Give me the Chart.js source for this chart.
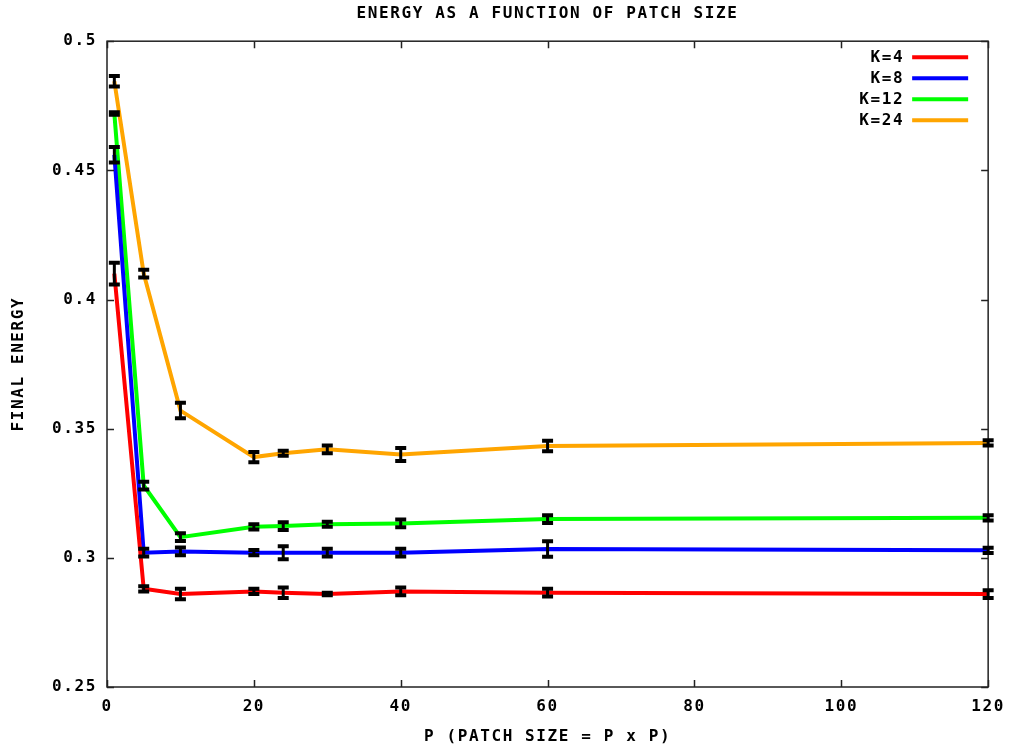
<!DOCTYPE html>
<html>
<head>
<meta charset="utf-8">
<script src="https://cdn.jsdelivr.net/npm/chart.js@4/dist/chart.umd.min.js"></script>
<style>
    html, body { margin: 0; padding: 0; background: #fff; }
    #wrap { width: 1015px; height: 749px; }
</style>
</head>
<body>
<div id="wrap"><canvas id="energyChart"></canvas></div>
<script>
// Patch size P (x axis)
const patchSizes = [1, 5, 10, 20, 24, 30, 40, 60, 120];

// Final energy per K, with half-height of the error bars
const energyK4  = [0.410, 0.288, 0.286, 0.287, 0.2865, 0.286, 0.287, 0.2865, 0.286];
const errK4     = [0.0042, 0.001, 0.002, 0.001, 0.002, 0.0005, 0.0015, 0.0015, 0.0015];
const energyK8  = [0.456, 0.302, 0.3025, 0.302, 0.302, 0.302, 0.302, 0.3034, 0.3029];
const errK8     = [0.003, 0.0015, 0.0015, 0.001, 0.0025, 0.0015, 0.0015, 0.003, 0.001];
const energyK12 = [0.472, 0.328, 0.308, 0.312, 0.3123, 0.313, 0.3133, 0.315, 0.3155];
const errK12    = [0.0005, 0.0015, 0.0015, 0.001, 0.0015, 0.001, 0.0015, 0.0015, 0.001];
const energyK24 = [0.4845, 0.410, 0.357, 0.339, 0.3405, 0.342, 0.340, 0.3433, 0.3445];
const errK24    = [0.002, 0.0015, 0.003, 0.002, 0.001, 0.0015, 0.0025, 0.002, 0.001];

const seriesLabels = ['K=4', 'K=8', 'K=12', 'K=24'];
const seriesColors = ['#ff0000', '#0000ff', '#00ff00', '#ffa500'];
const seriesValues = [energyK4, energyK8, energyK12, energyK24];
const seriesErrors = [errK4, errK8, errK12, errK24];

const FONT = { family: '"DejaVu Sans Mono", monospace', size: 16, weight: 'bold' };
const SPACING = '1.6px';

function setSpacing(chart) {
    chart.ctx.letterSpacing = SPACING;
}

// gnuplot-style frame with inward ticks on all four sides
const framePlugin = {
    id: 'frame',
    beforeUpdate: setSpacing,
    beforeLayout: setSpacing,
    beforeDraw: setSpacing,
    afterDatasetsDraw(chart) {
        const { ctx, chartArea: a, scales } = chart;
        ctx.save();
        ctx.strokeStyle = '#222';
        ctx.lineWidth = 1.5;
        ctx.strokeRect(a.left, a.top, a.right - a.left, a.bottom - a.top);
        const len = 7;
        ctx.beginPath();
        scales.x.ticks.forEach(t => {
            const px = Math.round(scales.x.getPixelForValue(t.value)) + 0.5;
            ctx.moveTo(px, a.bottom); ctx.lineTo(px, a.bottom - len);
            ctx.moveTo(px, a.top); ctx.lineTo(px, a.top + len);
        });
        scales.y.ticks.forEach(t => {
            const py = Math.round(scales.y.getPixelForValue(t.value)) + 0.5;
            ctx.moveTo(a.left, py); ctx.lineTo(a.left + len, py);
            ctx.moveTo(a.right, py); ctx.lineTo(a.right - len, py);
        });
        ctx.stroke();
        ctx.restore();
    }
};

// black error bars drawn on top of the lines
const errorBarPlugin = {
    id: 'errorBars',
    afterDatasetsDraw(chart) {
        const { ctx, scales } = chart;
        ctx.save();
        ctx.strokeStyle = '#000';
        ctx.lineCap = 'butt';
        chart.data.datasets.forEach(ds => {
            ds.data.forEach((p, i) => {
                const e = ds.errors[i];
                const px = scales.x.getPixelForValue(p.x);
                const yTop = scales.y.getPixelForValue(p.y + e);
                const yBot = scales.y.getPixelForValue(p.y - e);
                ctx.lineWidth = 3;
                ctx.beginPath();
                ctx.moveTo(px, yTop); ctx.lineTo(px, yBot);
                ctx.stroke();
                ctx.lineWidth = 4;
                ctx.beginPath();
                ctx.moveTo(px - 5.5, yTop); ctx.lineTo(px + 5.5, yTop);
                ctx.moveTo(px - 5.5, yBot); ctx.lineTo(px + 5.5, yBot);
                ctx.stroke();
            });
        });
        ctx.restore();
    }
};

// legend: text right aligned, coloured line sample to its right
const legendPlugin = {
    id: 'gpLegend',
    afterDraw(chart) {
        const { ctx, chartArea: a } = chart;
        ctx.save();
        ctx.letterSpacing = SPACING;
        ctx.font = `bold ${FONT.size}px ${FONT.family}`;
        ctx.textAlign = 'right';
        ctx.textBaseline = 'middle';
        chart.data.datasets.forEach((ds, i) => {
            const y = a.top + 16 + i * 21;
            ctx.fillStyle = '#000';
            ctx.fillText(ds.label, a.right - 84, y + 1);
            ctx.strokeStyle = ds.borderColor;
            ctx.lineWidth = 4;
            ctx.beginPath();
            ctx.moveTo(a.right - 76, y);
            ctx.lineTo(a.right - 20, y);
            ctx.stroke();
        });
        ctx.restore();
    }
};

const datasets = seriesLabels.map((label, i) => ({
    label: label,
    data: patchSizes.map((p, j) => ({ x: p, y: seriesValues[i][j] })),
    errors: seriesErrors[i],
    borderColor: seriesColors[i],
    backgroundColor: seriesColors[i],
    borderWidth: 4,
    pointRadius: 0,
    tension: 0,
    fill: false
}));

new Chart(document.getElementById('energyChart'), {
    type: 'line',
    data: { datasets: datasets },
    options: {
        responsive: true,
        maintainAspectRatio: false,
        animation: false,
        layout: { padding: { left: 0, right: 24, top: 0, bottom: 0 } },
        plugins: {
            legend: { display: false },
            tooltip: { enabled: false },
            title: {
                display: true,
                text: 'ENERGY AS A FUNCTION OF PATCH SIZE',
                color: '#000',
                font: FONT,
                fullSize: false,
                padding: { top: 4, bottom: 18 }
            }
        },
        scales: {
            x: {
                type: 'linear',
                min: 0,
                max: 120,
                ticks: { stepSize: 20, color: '#000', font: FONT, padding: 10, maxRotation: 0 },
                grid: { display: false, drawTicks: false },
                border: { display: false },
                title: {
                    display: true,
                    text: 'P (PATCH SIZE = P x P)',
                    color: '#000',
                    font: FONT,
                    padding: { top: 0, bottom: 3 }
                },
                afterFit: s => { s.height = 62; }
            },
            y: {
                min: 0.25,
                max: 0.5,
                ticks: {
                    stepSize: 0.05,
                    color: '#000',
                    font: FONT,
                    padding: 10,
                    callback: v => String(+v.toFixed(2))
                },
                grid: { display: false, drawTicks: false },
                border: { display: false },
                title: {
                    display: true,
                    text: 'FINAL ENERGY',
                    color: '#000',
                    font: FONT,
                    padding: { top: 9, bottom: 0 }
                },
                afterFit: s => { s.width = 107; }
            }
        }
    },
    plugins: [framePlugin, errorBarPlugin, legendPlugin]
});
</script>
</body>
</html>
